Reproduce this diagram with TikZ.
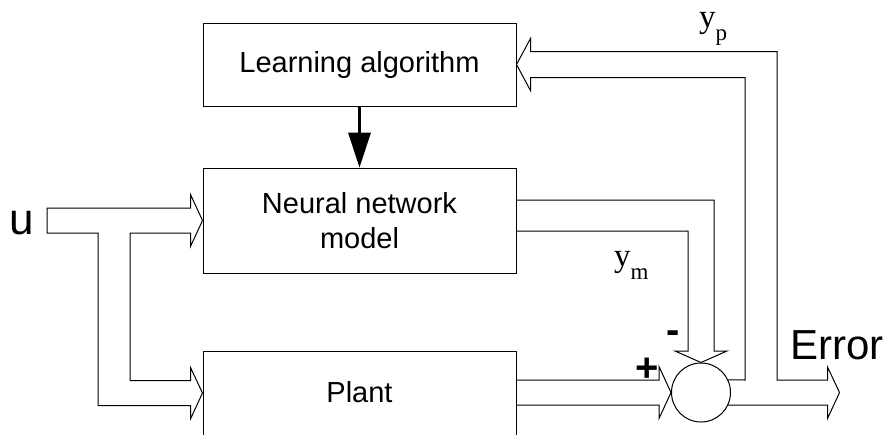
\documentclass[tikz,border=0pt]{standalone}
\usepackage{fontspec}
\setmainfont{Liberation Sans}
\newfontfamily\seriffont{Liberation Serif}
\usetikzlibrary{arrows.meta,calc}

\begin{document}
\begin{tikzpicture}[x=1pt,y=-1pt,line join=miter,
  block/.style={draw,line width=1pt,minimum width=313pt,inner sep=0pt,
    align=center,font=\fontsize{29}{35}\selectfont},
  band/.style={draw,line width=1pt},
  plain/.style={inner sep=0pt},
  bigtext/.style={plain,font=\fontsize{42}{42}\selectfont},
  signtext/.style={plain,anchor=base,font=\fontsize{40}{40}\selectfont\bfseries},
  symlabel/.style={plain,anchor=base west,font=\fontsize{33}{33}\seriffont}]
\useasboundingbox (0,0) rectangle (891,434);
\clip (0,0) rectangle (891,434);

% blocks
\node[block,minimum height=83pt]  (learn) at (359.5,64.5)  {Learning algorithm};
\node[block,minimum height=105pt] (nn)    at (359.5,220.5) {Neural network\\model};
\node[block,minimum height=105pt] (plant) at (359.5,403.5) {};
\node[plain,anchor=base,font=\fontsize{29}{35}\selectfont] (plantlabel) at (359.5,402.3) {Plant};

% summing junction
\node[circle,draw,line width=1pt,minimum size=59pt,inner sep=0pt] (sum) at (701,392.5) {};

% weight update from the learning algorithm
\draw[line width=2.5pt,-{Triangle[length=35pt,width=23pt,line width=0pt]}]
  (learn.south) -- (nn.north);

% input u, split to the model and the plant
\coordinate (plin) at ($(plant.west)+(0,-10.5)$);
\draw[band] (47,208) -- ($(nn.west)+(-12,-12.5)$) -- ++(0,-13.5) -- (nn.west)
  -- ($(nn.west)+(-12,26)$) -- ++(0,-13.5) -- (130,233) -- (130,380.5)
  -- ($(plin)+(-12,-12.5)$) -- ++(0,-13) -- (plin)
  -- ($(plin)+(-12,26)$) -- ++(0,-13.5) -- (98,405.5) -- (98,233) -- (47,233) -- cycle;

% model output y_m into the junction
\draw[band] ($(nn.east)+(0,-20.5)$) -| ($(sum.north)+(13,-11.5)$)
  -- ($(sum.north)+(26,-11.5)$) -- (sum.north) -- ($(sum.north)+(-26,-11.5)$)
  -- ($(sum.north)+(-13,-11.5)$) |- ($(nn.east)+(0,10.5)$);

% plant output into the junction
\coordinate (plt) at ($(sum.west)+(-12,-12.5)$);
\coordinate (plb) at ($(sum.west)+(-12,12.5)$);
\draw[band] (plant.east |- plt) -- (plt) -- ++(0,-13.5) -- (sum.west)
  -- ($(sum.west)+(-12,26)$) -- (plb) -- (plant.east |- plb);

% error output and feedback to the learning algorithm
\coordinate (errtip) at ($(sum.east)+(108.5,0)$);
\draw[band] (sum.25) -- (745,380) -- (745,77.5) -- ($(learn.east)+(14,13)$)
  -- ++(0,13) -- (learn.east) -- ($(learn.east)+(14,-26)$) -- ++(0,13)
  -- (777,51.5) -- (777,380) -- ($(errtip)+(-12,-12.5)$) -- ++(0,-13) -- (errtip)
  -- ($(errtip)+(-12,26)$) -- ++(0,-13.5) -- (sum.-25);

% labels
\node[plain,anchor=base west,font=\fontsize{44}{44}\selectfont] (ulabel) at (9,234) {u};
\node[symlabel] (yplabel) at (699,27) {y\raisebox{-13pt}{\fontsize{23}{23}\seriffont p}};
\node[symlabel] (ymlabel) at (614,266) {y\raisebox{-13pt}{\fontsize{23}{23}\seriffont m}};
\node[bigtext,anchor=base west] (errlabel) at (790,359.3) {Error};
\node[signtext] (plus) at (647,381) {+};
\node[signtext] (minus) at (673,343.5) {-};
\end{tikzpicture}
\end{document}
